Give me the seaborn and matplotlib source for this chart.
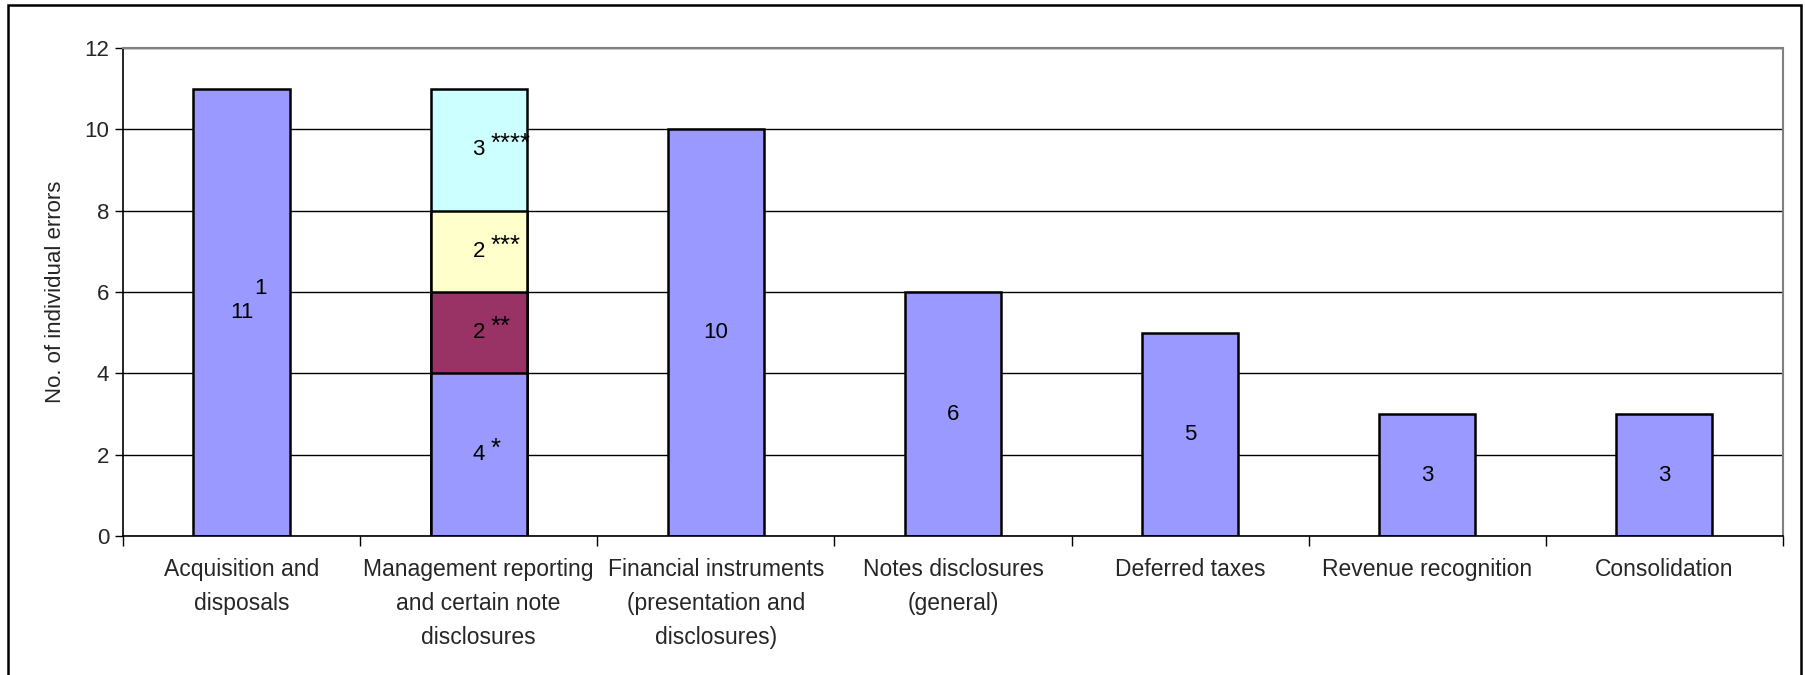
import matplotlib
matplotlib.use("Agg")
import matplotlib.pyplot as plt
import matplotlib.patches as mpatches
import seaborn as sns
import pandas as pd
import numpy as np

# Categories and counts of individual errors
categories = [
    "Acquisition and\ndisposals",
    "Management reporting\nand certain note\ndisclosures",
    "Financial instruments\n(presentation and\ndisclosures)",
    "Notes disclosures\n(general)",
    "Deferred taxes",
    "Revenue recognition",
    "Consolidation",
]
base_counts = [11, 4, 10, 6, 5, 3, 3]

# Management reporting breakdown (stacked above the base segment)
stack_counts = [2, 2, 3]
stack_marks = ["**", "***", "****"]
base_marks = ["1", "*", "", "", "", "", ""]
stack_colors = ["#993366", "#FFFFCC", "#CCFFFF"]
base_color = "#9999FF"
stack_index = 1

sns.set_theme(style="white")
plt.rcParams["font.family"] = ["Liberation Sans", "DejaVu Sans"]

fig = plt.figure(figsize=(18.05, 6.75), dpi=100)
ax = fig.add_axes([0.0681, 0.2059, 0.9197, 0.7230])

# Cumulative tops for the stacked column, drawn from the tallest down
tops = np.cumsum([base_counts[stack_index]] + stack_counts)
layers = []
for k in range(len(stack_counts), 0, -1):
    vals = [0] * len(categories)
    vals[stack_index] = tops[k]
    layers.append((vals, stack_colors[k - 1]))
layers.append((base_counts, base_color))

for vals, col in layers:
    df = pd.DataFrame({"category": categories, "count": vals})
    sns.barplot(data=df, x="category", y="count", order=categories,
                color=col, width=0.405, edgecolor="black", linewidth=1.8,
                saturation=1, ax=ax)

# Value labels, centred in each segment, with raised footnote marks
fs = 16
def label(x, y0, h, mark, dx, dy, mark_size):
    ax.text(x, y0 + h / 2, str(h), ha="center", va="center", fontsize=fs,
            color="black")
    if mark:
        ax.annotate(mark, xy=(x, y0 + h / 2), xytext=(dx, dy),
                    textcoords="offset points", ha="left", va="center",
                    fontsize=mark_size, color="black")

for i, h in enumerate(base_counts):
    if base_marks[i] == "1":
        label(i, 0, h, base_marks[i], 9.5, 17, fs)
    else:
        label(i, 0, h, base_marks[i], 8.5, 4, 18.5)

y0 = base_counts[stack_index]
for h, m in zip(stack_counts, stack_marks):
    label(stack_index, y0, h, m, 8.5, 4, 18.5)
    y0 += h

# Axes styling
ax.set_ylim(0, 12)
ax.set_xlim(-0.5, len(categories) - 0.5)
ax.set_yticks(range(0, 13, 2))
ax.yaxis.grid(True, color="black", linewidth=1.0)
ax.set_axisbelow(True)
ax.tick_params(axis="y", which="major", left=True, length=6, width=1,
               color="black", labelsize=fs, pad=4)

ax.set_xticks(np.arange(-0.5, len(categories), 1.0))
ax.set_xticklabels([])
ax.set_xticks(range(len(categories)), minor=True)
ax.set_xticklabels(categories, minor=True, fontsize=16.5, linespacing=1.6)
ax.tick_params(axis="x", which="major", bottom=True, length=7, width=1,
               color="black")
ax.tick_params(axis="x", which="minor", bottom=False, length=0, pad=16)

ax.set_xlabel("")
ax.set_ylabel("No. of individual errors", fontsize=16, labelpad=13)

for side in ["left", "bottom"]:
    ax.spines[side].set_color("black")
    ax.spines[side].set_linewidth(1.2)
for side in ["top", "right"]:
    ax.spines[side].set_color("#808080")
    ax.spines[side].set_linewidth(1.5)

# Outer frame around the chart area
frame = mpatches.Rectangle((8 / 1805, -0.02), (1801 - 8) / 1805, 0.9926 + 0.02,
                           transform=fig.transFigure, fill=False,
                           edgecolor="black", linewidth=1.8)
fig.patches.append(frame)

fig.savefig("out.png", dpi=100, facecolor="white")
